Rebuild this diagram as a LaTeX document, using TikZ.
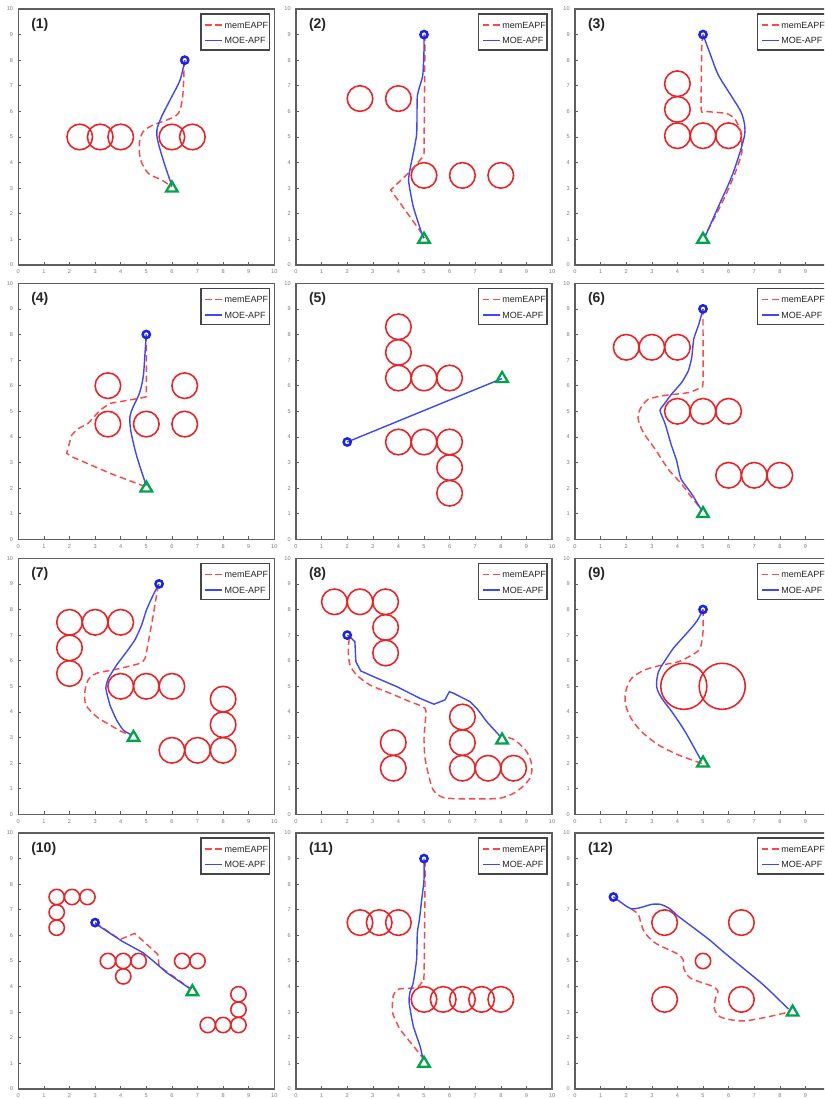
\documentclass[tikz,border=0pt]{standalone}
\usepackage{fontspec}
\setmainfont{Liberation Sans}
\definecolor{obst}{RGB}{238,32,36}
\definecolor{memc}{RGB}{252,72,72}
\definecolor{moec}{RGB}{62,72,250}
\definecolor{startc}{RGB}{25,35,235}
\definecolor{goalc}{RGB}{0,165,75}
\definecolor{axc}{RGB}{95,95,95}
\definecolor{tickc}{RGB}{125,125,125}
\definecolor{legc}{RGB}{70,70,70}
\tikzset{
 obstacle/.style={draw=obst, line width=1.55pt},
 mempath/.style={draw=memc, line width=1.45pt, dash pattern=on 6.5pt off 3.8pt},
 moepath/.style={draw=moec, line width=1.4pt},
 startmark/.style={draw=startc, line width=2.5pt},
 goalmark/.style={draw=goalc, line width=2.3pt, line join=miter},
 axbox/.style={draw=axc, line width=1.1pt},
 tickmk/.style={draw=axc, line width=0.6pt},
 ticklab/.style={text=tickc, font=\fontsize{5.6}{6.5}\selectfont, inner sep=0pt},
 legbox/.style={draw=legc, line width=1.4pt, fill=white},
 legtext/.style={font=\fontsize{9}{10}\selectfont, anchor=west, inner sep=0pt, text=black!85},
 panellab/.style={font=\fontsize{14}{16}\bfseries\selectfont, anchor=west, inner sep=0pt, text=black!85},
}
\newcommand\panelframe[3]{%
  \draw[axbox] (0,0) rectangle (10,10);
  \foreach \i in {0,...,10}{
    \draw[tickmk] (\i,0) -- (\i,0.12);
    \draw[tickmk] (0,\i) -- (0.12,\i);
    \node[ticklab, anchor=east] (#1y\i) at (-0.2,\i) {\i};
  }
  \foreach \i in {0,...,#3}{
    \node[ticklab] (#1x\i) at (\i,-0.27) {\i};
  }
  \node[panellab] (#1lab) at (0.5,9.39) {#2};
}
\newcommand\legendbox[1]{%
  \draw[legbox] (7.14,8.4) rectangle (9.81,9.8);
  \draw[mempath] (7.3,9.37) -- (7.96,9.37);
  \draw[moepath] (7.3,8.76) -- (7.96,8.76);
  \node[legtext] (#1la) at (8.05,9.37) {memEAPF};
  \node[legtext] (#1lb) at (8.05,8.76) {MOE-APF};
}
\newcommand\obs[3][0.5]{\draw[obstacle] (#2,#3) circle[radius=#1];}
\newcommand\startpt[2]{\draw[startmark] (#1,#2) circle[radius=3.6pt];}
\newcommand\goalpt[2]{\draw[goalmark] (#1,#2) ++(0pt,6.6pt) -- ++(-5.8pt,-10pt) -- ++(11.6pt,0pt) -- cycle;}
\begin{document}
\begin{tikzpicture}
\useasboundingbox (0pt,0pt) rectangle (824pt,1099pt);
\fill[white] (0pt,0pt) rectangle (824pt,1099pt);
\clip (0pt,0pt) rectangle (824pt,1099pt);

% ---------- Panel 1
\begin{scope}[shift={(18.3pt,834pt)}, x=25.6pt, y=25.6pt]
\panelframe{a}{(1)}{10}
\obs{2.4}{5}\obs{3.2}{5}\obs{4}{5}\obs{6}{5}\obs{6.8}{5}
\draw[mempath] plot[smooth, tension=0.55] coordinates {(6.5,8) (6.48,7.75) (6.42,6.58) (6.25,5.92) (5.79,5.66) (5.27,5.47) (4.88,5.21) (4.73,4.75) (4.78,4.10) (5.08,3.58) (5.60,3.32) (6,3.05)};
\draw[moepath] plot[smooth, tension=0.55] coordinates {(6.5,8) (6.32,7.23) (5.93,6.45) (5.54,5.66) (5.41,5.08) (5.66,4.10) (6,3.1)};
\startpt{6.5}{8}\goalpt{6}{3}
\legendbox{a}
\end{scope}

% ---------- Panel 2
\begin{scope}[shift={(296pt,834pt)}, x=25.6pt, y=25.6pt]
\panelframe{b}{(2)}{10}
\obs{2.5}{6.5}\obs{4}{6.5}\obs{5}{3.5}\obs{6.5}{3.5}\obs{8}{3.5}
\draw[mempath] (5.03,9) -- (5.03,8.0) -- (5,4.3) -- (4.97,4.24) -- (4.45,3.65) -- (3.70,2.93) -- (4.26,2.15) -- (4.91,1.24) -- (5,1.05);
\draw[moepath] plot[smooth, tension=0.3] coordinates {(5,9) (5,8.4) (4.95,7.4) (4.74,6.6) (4.71,5.08) (4.45,3.72) (4.40,3.26) (4.58,2.28) (4.91,1.24) (5,1.05)};
\startpt{5}{9}\goalpt{5}{1}
\legendbox{b}
\end{scope}

% ---------- Panel 3
\begin{scope}[shift={(575pt,834pt)}, x=25.6pt, y=25.6pt]
\panelframe{c}{(3)}{9}
\obs{4}{5.05}\obs{4}{6.08}\obs{4}{7.08}\obs{5}{5.05}\obs{6}{5.05}
\draw[mempath] plot[smooth, tension=0.3] coordinates {(5,9) (4.95,8.5) (4.93,6.08) (5.08,6.0) (5.92,5.92) (6.25,5.7) (6.5,5.14) (6.51,4.36) (6.25,3.58) (5.86,2.67) (5.47,1.89) (5.05,1.1)};
\draw[moepath] plot[smooth, tension=0.55] coordinates {(5,9) (5.27,8.27) (5.6,7.42) (6.12,6.58) (6.51,5.92) (6.64,5.27) (6.51,4.62) (6.12,3.45) (5.6,2.28) (5.08,1.1)};
\startpt{5}{9}\goalpt{5}{1}
\legendbox{c}
\end{scope}

% ---------- Panel 4
\begin{scope}[shift={(18.3pt,559.7pt)}, x=25.6pt, y=25.6pt]
\panelframe{d}{(4)}{10}
\obs{3.5}{6}\obs{6.5}{6}\obs{3.5}{4.5}\obs{5}{4.5}\obs{6.5}{4.5}
\draw[mempath] (5,8) -- (5,5.57) -- (4.75,5.51) -- (3.58,5.31) -- (3.2,5.05) -- (2.73,4.53) -- (2.3,4.3) -- (2.08,4.06) -- (1.89,3.36) -- (2.08,3.23) -- (3.58,2.58) -- (4.95,2.06);
\draw[moepath] plot[smooth, tension=0.5] coordinates {(5,8) (4.95,7.27) (4.88,6.35) (4.73,5.70) (4.49,5.18) (4.36,4.79) (4.39,4.27) (4.56,3.49) (4.75,2.84) (5,2.1)};
\startpt{5}{8}\goalpt{5}{2}
\legendbox{d}
\end{scope}

% ---------- Panel 5
\begin{scope}[shift={(296pt,559.7pt)}, x=25.6pt, y=25.6pt]
\panelframe{e}{(5)}{10}
\obs{4}{8.3}\obs{4}{7.3}\obs{4}{6.3}\obs{5}{6.3}\obs{6}{6.3}
\obs{4}{3.8}\obs{5}{3.8}\obs{6}{3.8}\obs{6}{2.8}\obs{6}{1.8}
\draw[moepath] (2,3.8) -- (8.05,6.28);
\startpt{2}{3.8}\goalpt{8.05}{6.28}
\legendbox{e}
\end{scope}

% ---------- Panel 6
\begin{scope}[shift={(575pt,559.7pt)}, x=25.6pt, y=25.6pt]
\panelframe{f}{(6)}{9}
\obs{2}{7.5}\obs{3}{7.5}\obs{4}{7.5}\obs{4}{5}\obs{5}{5}\obs{6}{5}\obs{6}{2.5}\obs{7}{2.5}\obs{8}{2.5}
\draw[mempath] plot[smooth, tension=0.45] coordinates {(5,9) (5,8.2) (5,6.12) (4.88,5.92) (4.43,5.73) (3.52,5.62) (2.86,5.47) (2.54,5.08) (2.47,4.69) (2.67,4.17) (3.13,3.52) (3.65,2.73) (4.17,2.15) (4.56,1.63) (4.88,1.24)};
\draw[moepath] plot[smooth, tension=0.3] coordinates {(5,9) (4.84,8.41) (4.64,7.83) (4.56,7.11) (4.43,6.59) (4.17,6.13) (3.78,5.68) (3.49,5.29) (3.32,5.03) (3.52,4.51) (3.75,3.72) (3.97,3.07) (4.14,2.36) (4.56,1.77) (4.95,1.12)};
\startpt{5}{9}\goalpt{5}{1}
\legendbox{f}
\end{scope}

% ---------- Panel 7
\begin{scope}[shift={(18.3pt,284.7pt)}, x=25.6pt, y=25.6pt]
\panelframe{g}{(7)}{10}
\obs{2}{7.5}\obs{3}{7.5}\obs{4}{7.5}\obs{2}{6.5}\obs{2}{5.5}\obs{4}{5}\obs{5}{5}\obs{6}{5}
\obs{8}{4.5}\obs{8}{3.5}\obs{6}{2.5}\obs{7}{2.5}\obs{8}{2.5}
\draw[mempath] plot[smooth, tension=0.45] coordinates {(5.47,8.96) (5.38,8.44) (5.25,7.66) (5.08,6.74) (4.95,6.09) (4.75,5.90) (4.23,5.76) (3.71,5.64) (3.06,5.51) (2.73,5.25) (2.60,4.79) (2.64,4.27) (3.06,3.81) (3.58,3.49) (4.04,3.23) (4.43,3.07)};
\draw[moepath] plot[smooth, tension=0.3] coordinates {(5.5,9) (5.27,8.57) (5.01,7.99) (4.82,7.40) (4.56,6.82) (4.23,6.35) (3.84,5.83) (3.52,5.31) (3.42,4.92) (3.58,4.27) (3.84,3.68) (4.10,3.29) (4.39,3.12)};
\startpt{5.5}{9}\goalpt{4.5}{3}
\legendbox{g}
\end{scope}

% ---------- Panel 8
\begin{scope}[shift={(296pt,284.7pt)}, x=25.6pt, y=25.6pt]
\panelframe{h}{(8)}{10}
\obs{1.5}{8.3}\obs{2.5}{8.3}\obs{3.5}{8.3}\obs{3.5}{7.3}\obs{3.5}{6.3}\obs{3.8}{2.8}\obs{3.8}{1.8}
\obs{6.5}{3.8}\obs{6.5}{2.8}\obs{6.5}{1.8}\obs{7.5}{1.8}\obs{8.5}{1.8}
\draw[mempath] plot[smooth, tension=0.45] coordinates {(2.08,6.87) (2.04,6.35) (2.11,5.83) (2.37,5.44) (2.89,5.05) (3.67,4.73) (4.45,4.40) (5.04,4.14) (5.05,3.62) (5.0,2.97) (5.04,2.19) (5.21,1.41) (5.36,0.95) (5.76,0.65) (6.80,0.60) (7.97,0.63) (8.62,0.89) (9.14,1.41) (9.21,1.93) (9.01,2.45) (8.55,2.90) (8.16,3.03)};
\draw[moepath] (2,7) -- (2.17,6.87) -- (2.30,6.74) -- (2.34,5.96) -- (2.53,5.60) -- (3.02,5.38) -- (3.93,4.99) -- (4.84,4.53) -- (5.39,4.30) -- (5.82,4.47) -- (5.99,4.79) -- (6.15,4.73) -- (6.80,4.40) -- (7.06,4.14) -- (7.45,3.62) -- (7.97,3.05);
\startpt{2}{7}\goalpt{8.05}{2.9}
\legendbox{h}
\end{scope}

% ---------- Panel 9
\begin{scope}[shift={(575pt,284.7pt)}, x=25.6pt, y=25.6pt]
\panelframe{i}{(9)}{9}
\obs[0.9]{4.25}{5}\obs[0.9]{5.75}{5}
\draw[mempath] plot[smooth, tension=0.55] coordinates {(5,8) (5,7.14) (4.88,6.48) (4.56,6.22) (4.04,5.96) (3.39,5.83) (2.73,5.64) (2.21,5.31) (1.98,4.79) (1.98,4.27) (2.19,3.75) (2.60,3.23) (3.26,2.71) (4.04,2.32) (4.69,2.08) (4.95,1.99)};
\draw[moepath] plot[smooth, tension=0.55] coordinates {(5,8) (4.75,7.53) (4.30,7.0) (3.84,6.48) (3.49,5.96) (3.26,5.57) (3.19,4.99) (3.39,4.53) (3.78,4.01) (4.30,3.23) (4.9,2.15)};
\startpt{5}{8}\goalpt{5}{2}
\legendbox{i}
\end{scope}

% ---------- Panel 10
\begin{scope}[shift={(18.3pt,10pt)}, x=25.6pt, y=25.6pt]
\panelframe{j}{(10)}{10}
\obs[0.3]{1.5}{7.5}\obs[0.3]{2.1}{7.5}\obs[0.3]{2.7}{7.5}\obs[0.3]{1.5}{6.9}\obs[0.3]{1.5}{6.3}
\obs[0.3]{3.5}{5}\obs[0.3]{4.1}{5}\obs[0.3]{4.7}{5}\obs[0.3]{4.1}{4.4}\obs[0.3]{6.4}{5}\obs[0.3]{7}{5}
\obs[0.3]{8.6}{3.7}\obs[0.3]{8.6}{3.1}\obs[0.3]{8.6}{2.5}\obs[0.3]{8}{2.5}\obs[0.3]{7.4}{2.5}
\draw[mempath] (3,6.5) -- (3.97,5.84) -- (4.55,6.08) -- (5.45,5.26) -- (5.5,4.8) -- (6.75,3.9);
\draw[moepath] (3,6.47) -- (4.04,5.78) -- (4.88,5.32) -- (5.27,5.0) -- (5.79,4.55) -- (6.73,3.9);
\startpt{3}{6.5}\goalpt{6.8}{3.8}
\legendbox{j}
\end{scope}

% ---------- Panel 11
\begin{scope}[shift={(296pt,10pt)}, x=25.6pt, y=25.6pt]
\panelframe{k}{(11)}{10}
\obs{2.5}{6.5}\obs{3.25}{6.5}\obs{4}{6.5}\obs{5}{3.5}\obs{5.75}{3.5}\obs{6.5}{3.5}\obs{7.25}{3.5}\obs{8}{3.5}
\draw[mempath] plot[smooth, tension=0.4] coordinates {(5.04,8.94) (5.04,8.18) (5,4.42) (4.91,4.16) (4.71,3.96) (4.0,3.90) (3.80,3.64) (3.77,2.99) (4.06,2.34) (4.58,1.69) (4.94,1.23)};
\draw[moepath] plot[smooth, tension=0.4] coordinates {(5,9) (5,8.18) (4.91,7.40) (4.82,6.62) (4.74,6.10) (4.71,5.06) (4.58,4.16) (4.45,3.77) (4.42,3.38) (4.58,2.47) (4.84,1.69) (4.96,1.17)};
\startpt{5}{9}\goalpt{5}{1}
\legendbox{k}
\end{scope}

% ---------- Panel 12
\begin{scope}[shift={(575pt,10pt)}, x=25.6pt, y=25.6pt]
\panelframe{l}{(12)}{9}
\obs{3.5}{6.5}\obs{6.5}{6.5}\obs[0.3]{5}{5}\obs{3.5}{3.5}\obs{6.5}{3.5}
\draw[mempath] plot[smooth, tension=0.5] coordinates {(2.19,7.04) (2.47,6.82) (2.57,6.49) (2.73,6.10) (3.12,5.71) (3.64,5.45) (4.03,5.26) (4.22,5.06) (4.26,4.68) (4.48,4.35) (4.94,4.16) (5.32,4.03) (5.58,3.83) (5.48,3.51) (5.45,3.12) (5.65,2.83) (6.10,2.70) (6.62,2.66) (7.40,2.79) (8.38,3.01)};
\draw[moepath] plot[smooth, tension=0.45] coordinates {(1.5,7.51) (1.82,7.27) (2.19,7.04) (2.53,7.08) (2.99,7.21) (3.35,7.21) (3.70,7.04) (4.03,6.75) (4.55,6.36) (5.26,5.82) (5.84,5.32) (6.62,4.68) (7.40,4.03) (8.34,3.12)};
\startpt{1.5}{7.5}\goalpt{8.5}{3}
\legendbox{l}
\end{scope}
\end{tikzpicture}
\end{document}
